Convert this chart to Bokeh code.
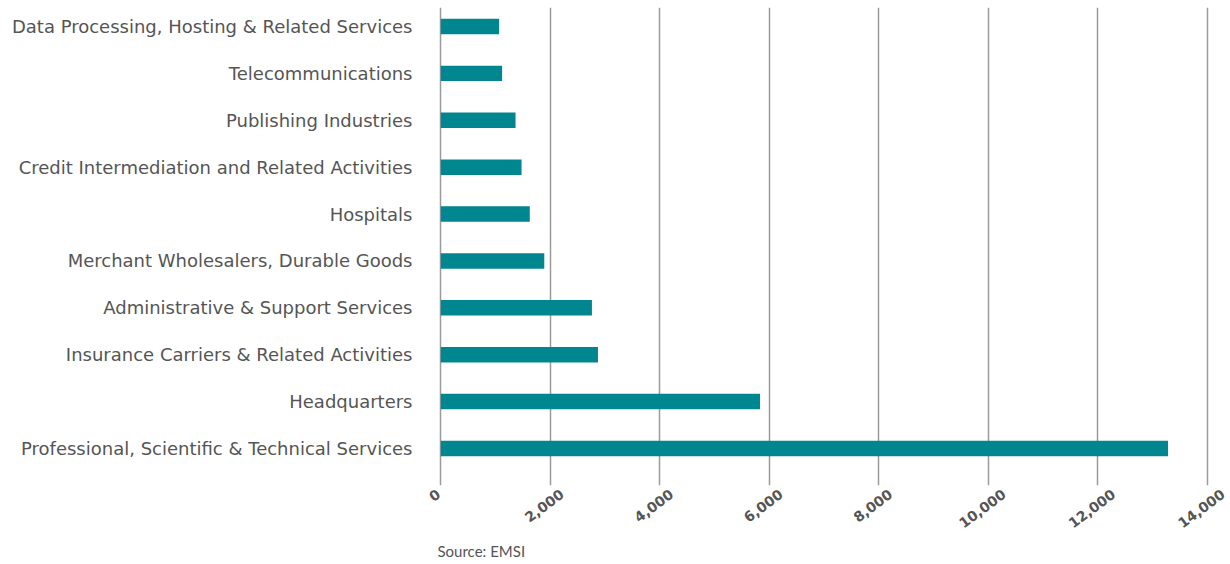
import math
from bokeh.plotting import figure
from bokeh.models import Range1d, FixedTicker, Title, ColumnDataSource, LinearAxis
from bokeh.embed import file_html
from bokeh.resources import INLINE

industries = [
    "Professional, Scientific & Technical Services",
    "Headquarters",
    "Insurance Carriers & Related Activities",
    "Administrative & Support Services",
    "Merchant Wholesalers, Durable Goods",
    "Hospitals",
    "Credit Intermediation and Related Activities",
    "Publishing Industries",
    "Telecommunications",
    "Data Processing, Hosting & Related Services",
]
jobs = [13280, 5830, 2870, 2760, 1890, 1625, 1475, 1365, 1120, 1065]
x_ticks = [0, 2000, 4000, 6000, 8000, 10000, 12000, 14000]

positions = list(range(len(industries)))
src = ColumnDataSource(dict(y=positions, right=jobs, name=industries))

W, H = 1230, 564
BORDER_L, BORDER_R = 437, 0
X0, X1 = -60, 14420
ANGLE = 0.64
TICK_FONT_PX = 14

p = figure(width=W, height=H, output_backend="svg", toolbar_location=None,
           x_range=Range1d(X0, X1), y_range=Range1d(-0.79, 9.405),
           x_axis_location=None,
           min_border_left=BORDER_L, min_border_right=BORDER_R,
           min_border_top=7, min_border_bottom=79)
p.outline_line_color = None
p.background_fill_color = "white"
p.border_fill_color = "white"

p.hbar(y="y", left=0, right="right", height=0.33, source=src,
       fill_color="#00868f", line_color=None)

# y axis (categories)
p.yaxis.ticker = FixedTicker(ticks=positions)
p.yaxis.major_label_overrides = {i: n for i, n in enumerate(industries)}
p.yaxis.axis_line_color = None
p.yaxis.major_tick_line_color = None
p.yaxis.minor_tick_line_color = None
p.yaxis.major_label_standoff = 19
p.yaxis.major_label_text_font = "DejaVu Sans"
p.yaxis.major_label_text_font_size = "18px"
p.yaxis.major_label_text_color = "#555555"
p.ygrid.grid_line_color = None

# x grid at the real tick values
p.xgrid.ticker = FixedTicker(ticks=x_ticks)
p.xgrid.grid_line_color = "#9a9a9a"
p.xgrid.grid_line_width = 1.5

# rotated tick labels: Bokeh anchors a rotated label at its right end; move each
# anchor so that the label sits roughly centred on its gridline (as in the reference)
px_per_unit = (W - BORDER_L - BORDER_R) / (X1 - X0)
def text_width(s):
    return sum((0.38 if c == "," else 0.696) * TICK_FONT_PX for c in s)
label_pos = {}
for t in x_ticks:
    s = f"{t:,}"
    shift_px = -6 + text_width(s) / 2 * math.cos(ANGLE)
    label_pos[int(round(t + shift_px / px_per_unit))] = s

xax = LinearAxis(ticker=FixedTicker(ticks=list(label_pos.keys())))
xax.major_label_overrides = label_pos
xax.axis_line_color = None
xax.major_tick_line_color = None
xax.minor_tick_line_color = None
xax.major_label_orientation = ANGLE
xax.major_label_standoff = 1
xax.major_label_text_font = "DejaVu Sans"
xax.major_label_text_font_style = "bold"
xax.major_label_text_font_size = f"{TICK_FONT_PX}px"
xax.major_label_text_color = "#555555"
p.add_layout(xax, "below")

p.add_layout(Title(text="Source: EMSI", align="left", offset=0, standoff=8,
                   text_font="Lato", text_font_size="15px", text_font_style="normal",
                   text_color="#555555"), "below")

open("out.html", "w").write(file_html(p, INLINE))
